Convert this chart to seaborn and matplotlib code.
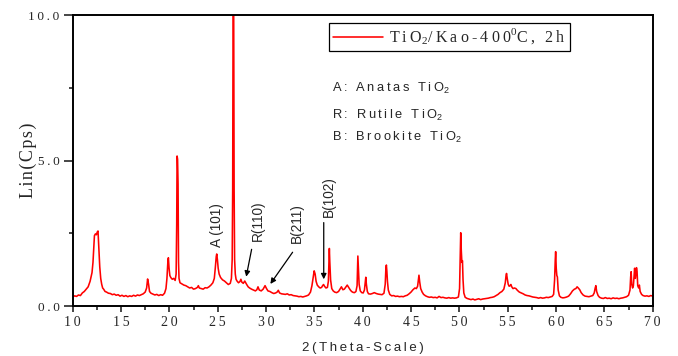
import matplotlib
matplotlib.use('Agg')
import matplotlib.pyplot as plt
import seaborn as sns
import pandas as pd
from matplotlib.ticker import FixedLocator, FixedFormatter, NullFormatter

# ---------------- data ----------------
two_theta = [
    10.0, 10.2, 10.4, 10.6, 10.8, 11.0, 11.2, 11.4, 11.6, 11.8,
    12.0, 12.1, 12.2, 12.25, 12.35, 12.45, 12.55, 12.62, 12.7, 12.8,
    12.9, 13.0, 13.1, 13.2, 13.35, 13.5, 13.7, 13.9, 14.1, 14.3,
    14.5, 14.7, 14.9, 15.1, 15.3, 15.5, 15.7, 15.9, 16.1, 16.3,
    16.5, 16.7, 16.9, 17.1, 17.3, 17.5, 17.65, 17.75, 17.85, 17.95,
    18.1, 18.3, 18.5, 18.7, 18.9, 19.1, 19.3, 19.5, 19.65, 19.75,
    19.85, 19.9, 19.97, 20.05, 20.15, 20.3, 20.45, 20.6, 20.7, 20.76,
    20.8, 20.85, 20.9, 20.95, 21.0, 21.1, 21.3, 21.5, 21.7, 21.9,
    22.1, 22.3, 22.5, 22.7, 22.9, 23.0, 23.1, 23.3, 23.5, 23.7,
    23.9, 24.1, 24.3, 24.5, 24.65, 24.75, 24.85, 24.9, 24.97, 25.05,
    25.15, 25.3, 25.5, 25.7, 25.9, 26.1, 26.3, 26.42, 26.5, 26.55,
    26.6, 26.65, 26.7, 26.75, 26.82, 26.9, 27.0, 27.15, 27.3, 27.4,
    27.5, 27.65, 27.8, 27.9, 28.0, 28.15, 28.3, 28.5, 28.7, 28.9,
    29.05, 29.17, 29.3, 29.5, 29.7, 29.9, 30.05, 30.2, 30.4, 30.6,
    30.8, 31.0, 31.15, 31.27, 31.4, 31.6, 31.8, 32.0, 32.2, 32.4,
    32.6, 32.8, 33.0, 33.2, 33.4, 33.6, 33.8, 34.0, 34.2, 34.4,
    34.6, 34.75, 34.88, 34.98, 35.08, 35.18, 35.3, 35.45, 35.6, 35.75,
    35.85, 35.95, 36.05, 36.2, 36.35, 36.45, 36.5, 36.55, 36.6, 36.68,
    36.8, 36.95, 37.1, 37.3, 37.5, 37.65, 37.8, 37.95, 38.1, 38.25,
    38.4, 38.55, 38.7, 38.85, 39.0, 39.15, 39.3, 39.42, 39.5, 39.56,
    39.63, 39.75, 39.9, 40.05, 40.18, 40.26, 40.32, 40.38, 40.48, 40.6,
    40.8, 41.0, 41.2, 41.4, 41.6, 41.8, 42.0, 42.2, 42.33, 42.4,
    42.45, 42.5, 42.56, 42.65, 42.8, 43.0, 43.2, 43.4, 43.6, 43.8,
    44.0, 44.2, 44.4, 44.6, 44.8, 45.0, 45.2, 45.4, 45.55, 45.68,
    45.76, 45.82, 45.9, 46.0, 46.15, 46.3, 46.5, 46.7, 46.9, 47.1,
    47.3, 47.5, 47.7, 47.9, 48.1, 48.3, 48.5, 48.7, 48.9, 49.1,
    49.3, 49.5, 49.7, 49.9, 50.02, 50.08, 50.14, 50.2, 50.26, 50.32,
    50.38, 50.46, 50.6, 50.8, 51.0, 51.2, 51.4, 51.6, 51.8, 52.0,
    52.2, 52.4, 52.6, 52.8, 53.0, 53.2, 53.4, 53.6, 53.8, 54.0,
    54.2, 54.4, 54.6, 54.75, 54.83, 54.88, 54.95, 55.05, 55.15, 55.25,
    55.33, 55.42, 55.55, 55.7, 55.85, 56.0, 56.2, 56.4, 56.6, 56.8,
    57.0, 57.2, 57.4, 57.6, 57.8, 58.0, 58.2, 58.4, 58.6, 58.8,
    59.0, 59.2, 59.4, 59.6, 59.75, 59.85, 59.92, 59.96, 60.02, 60.08,
    60.14, 60.22, 60.35, 60.5, 60.7, 60.9, 61.1, 61.3, 61.5, 61.7,
    61.9, 62.05, 62.18, 62.3, 62.45, 62.6, 62.8, 63.0, 63.2, 63.4,
    63.6, 63.8, 63.95, 64.05, 64.12, 64.2, 64.35, 64.5, 64.7, 64.9,
    65.1, 65.3, 65.5, 65.7, 65.9, 66.1, 66.3, 66.5, 66.7, 66.9,
    67.1, 67.3, 67.5, 67.65, 67.72, 67.77, 67.83, 67.92, 68.0, 68.07,
    68.13, 68.2, 68.26, 68.32, 68.38, 68.45, 68.55, 68.62, 68.7, 68.85,
    69.0, 69.2, 69.4, 69.6, 69.8, 70.0,
]
lin_cps = [
    0.31, 0.35, 0.33, 0.38, 0.36, 0.45, 0.50, 0.58, 0.66, 0.85,
    1.15, 1.50, 2.10, 2.42, 2.48, 2.45, 2.55, 2.58, 2.00, 1.35,
    0.95, 0.75, 0.62, 0.58, 0.50, 0.48, 0.44, 0.43, 0.39, 0.41,
    0.37, 0.39, 0.34, 0.37, 0.33, 0.36, 0.32, 0.35, 0.33, 0.37,
    0.34, 0.38, 0.36, 0.39, 0.42, 0.48, 0.62, 0.93, 0.75, 0.50,
    0.44, 0.41, 0.38, 0.40, 0.36, 0.39, 0.37, 0.44, 0.60, 0.95,
    1.55, 1.66, 1.30, 1.05, 0.98, 0.92, 0.95, 0.88, 1.10, 2.80,
    5.16, 5.05, 4.20, 1.50, 0.95, 0.80, 0.76, 0.72, 0.70, 0.66,
    0.62, 0.64, 0.58, 0.60, 0.64, 0.70, 0.62, 0.60, 0.58, 0.63,
    0.62, 0.66, 0.72, 0.80, 0.95, 1.30, 1.70, 1.79, 1.60, 1.30,
    1.10, 0.98, 0.90, 0.86, 0.80, 0.74, 0.78, 0.95, 1.60, 4.00,
    11.0, 11.0, 4.00, 1.60, 1.10, 0.92, 0.86, 0.80, 0.84, 0.92,
    0.82, 0.78, 0.86, 0.80, 0.74, 0.66, 0.62, 0.58, 0.55, 0.52,
    0.56, 0.66, 0.55, 0.52, 0.58, 0.70, 0.60, 0.52, 0.50, 0.46,
    0.43, 0.45, 0.48, 0.54, 0.45, 0.42, 0.41, 0.40, 0.42, 0.38,
    0.39, 0.36, 0.35, 0.34, 0.32, 0.33, 0.31, 0.33, 0.35, 0.38,
    0.48, 0.70, 1.00, 1.21, 1.10, 0.85, 0.72, 0.66, 0.62, 0.64,
    0.70, 0.74, 0.68, 0.62, 0.64, 0.85, 1.40, 1.98, 1.50, 0.90,
    0.60, 0.52, 0.48, 0.46, 0.50, 0.58, 0.66, 0.56, 0.58, 0.65,
    0.72, 0.64, 0.56, 0.50, 0.47, 0.46, 0.50, 0.70, 1.72, 1.30,
    0.75, 0.52, 0.46, 0.45, 0.55, 0.80, 0.99, 0.75, 0.50, 0.42,
    0.41, 0.43, 0.46, 0.43, 0.41, 0.40, 0.39, 0.44, 0.75, 1.30,
    1.41, 1.20, 0.85, 0.55, 0.40, 0.35, 0.36, 0.33, 0.34, 0.32,
    0.33, 0.32, 0.35, 0.37, 0.42, 0.48, 0.56, 0.62, 0.60, 0.68,
    0.90, 1.06, 0.82, 0.60, 0.48, 0.40, 0.35, 0.32, 0.30, 0.31,
    0.29, 0.30, 0.28, 0.33, 0.29, 0.30, 0.28, 0.27, 0.29, 0.27,
    0.28, 0.27, 0.28, 0.31, 0.60, 1.60, 2.52, 1.90, 1.50, 1.56,
    0.90, 0.45, 0.30, 0.26, 0.24, 0.22, 0.24, 0.21, 0.23, 0.25,
    0.22, 0.24, 0.25, 0.26, 0.27, 0.29, 0.30, 0.32, 0.36, 0.40,
    0.46, 0.50, 0.58, 0.80, 1.05, 1.12, 0.95, 0.75, 0.68, 0.70,
    0.74, 0.66, 0.60, 0.62, 0.60, 0.54, 0.48, 0.45, 0.42, 0.38,
    0.36, 0.35, 0.33, 0.31, 0.30, 0.29, 0.27, 0.29, 0.27, 0.28,
    0.30, 0.29, 0.31, 0.33, 0.40, 0.90, 1.60, 1.87, 1.30, 1.05,
    1.00, 0.55, 0.35, 0.30, 0.28, 0.29, 0.31, 0.34, 0.42, 0.52,
    0.58, 0.60, 0.66, 0.62, 0.56, 0.46, 0.38, 0.34, 0.33, 0.32,
    0.34, 0.36, 0.45, 0.62, 0.70, 0.50, 0.36, 0.30, 0.27, 0.26,
    0.29, 0.26, 0.27, 0.25, 0.28, 0.26, 0.27, 0.25, 0.27, 0.28,
    0.30, 0.32, 0.37, 0.55, 1.00, 1.18, 0.75, 0.62, 0.70, 1.00,
    1.30, 0.95, 1.10, 1.32, 1.20, 0.70, 0.62, 0.72, 0.50, 0.40,
    0.36, 0.34, 0.35, 0.33, 0.36, 0.34,
]

x_major_ticks = [10, 15, 20, 25, 30, 35, 40, 45, 50, 55, 60, 65, 70]
x_minor_ticks = [12.5, 17.5, 22.5, 27.5, 32.5, 37.5, 42.5, 47.5, 52.5, 57.5, 62.5, 67.5]
y_major_ticks = [0.0, 5.0, 10.0]
y_minor_ticks = [2.5, 7.5]
y_tick_labels = ["0.0", "5.0", "10.0"]

phase_notes = ["A: Anatas TiO", "R: Rutile TiO", "B: Brookite TiO"]
peak_labels = ["A (101)", "R(110)", "B(211)", "B(102)"]
peak_label_pos = [(24.97, 2.79), (29.20, 2.93), (33.16, 2.86), (36.55, 3.75)]
arrow_tips = [(27.95, 1.01), (30.45, 0.76), (35.97, 0.92)]
arrow_starts = [(28.51, 1.95), (32.75, 1.85), (35.97, 2.87)]

# ---------------- styling ----------------
THIN = '\u2009'
HAIR = '\u200a'
SERIF = ['Liberation Serif', 'DejaVu Serif']
SANS = ['Liberation Sans', 'DejaVu Sans']


def sp(s, gap=THIN):
    return gap.join(s)


sns.set_style('ticks')
plt.rcParams['font.family'] = SERIF

fig = plt.figure(figsize=(6.78, 3.56), dpi=100)
ax = fig.add_axes([0.1072, 0.1404, 0.8555, 0.8166])

df = pd.DataFrame({'two_theta': two_theta, 'lin_cps': lin_cps})
leg_text = sp('TiO') + r'$_\mathregular{2}$' + sp('/Kao-400') + r'$^\mathregular{0}$' + sp('C, 2h')
sns.lineplot(data=df, x='two_theta', y='lin_cps', ax=ax, color='#ff0000',
             linewidth=1.15, estimator=None, sort=False, label=leg_text)

ax.set_xlim(10, 70)
ax.set_ylim(0, 10)

for s in ax.spines.values():
    s.set_visible(True)
    s.set_linewidth(1.4)
    s.set_color('black')

ax.xaxis.set_major_locator(FixedLocator(x_major_ticks))
ax.xaxis.set_minor_locator(FixedLocator(x_minor_ticks))
ax.yaxis.set_major_locator(FixedLocator(y_major_ticks))
ax.yaxis.set_minor_locator(FixedLocator(y_minor_ticks))
ax.xaxis.set_major_formatter(FixedFormatter([sp(str(t)) for t in x_major_ticks]))
ax.yaxis.set_major_formatter(FixedFormatter([sp(t) for t in y_tick_labels]))
ax.xaxis.set_minor_formatter(NullFormatter())
ax.yaxis.set_minor_formatter(NullFormatter())

ax.tick_params(axis='x', which='major', direction='out', length=4.2, width=1.2,
               pad=3, labelsize=10, top=False)
ax.tick_params(axis='x', which='minor', direction='out', length=3, width=1.2, top=False)
ax.tick_params(axis='y', which='major', direction='out', length=6.5, width=1.2,
               pad=3, labelsize=9.5, right=False)
ax.tick_params(axis='y', which='minor', direction='out', length=3, width=1.2, right=False)
for lab in ax.get_xticklabels() + ax.get_yticklabels():
    lab.set_family(SERIF)

ax.set_xlabel(sp('2(Theta-Scale)'), family=SANS, fontsize=9.5)
ax.xaxis.set_label_coords(0.5, -0.125)
ax.set_ylabel(sp('Lin(Cps)', HAIR), family=SERIF, fontsize=13)
ax.yaxis.set_label_coords(-0.062, 0.5)

leg = ax.legend(loc='upper left', bbox_to_anchor=(0.442, 0.975), frameon=True,
                fancybox=False, edgecolor='black', framealpha=1, borderaxespad=0,
                borderpad=0.25, handlelength=3.1, handletextpad=0.4,
                prop={'family': SERIF, 'size': 11.5})
leg.get_frame().set_linewidth(0.9)

note_y = [0.737, 0.645, 0.567]
for txt, yy in zip(phase_notes, note_y):
    ax.text(0.447, yy, sp(txt) + r'$_\mathregular{2}$', transform=ax.transAxes,
            family=SANS, fontsize=9.3, ha='left', va='baseline')

for txt, (px, py) in zip(peak_labels, peak_label_pos):
    ax.text(px, py, txt, rotation=90, ha='center', va='center',
            family=SANS, fontsize=9.8)

for tip, start in zip(arrow_tips, arrow_starts):
    ax.annotate('', xy=tip, xytext=start,
                arrowprops=dict(arrowstyle='-|>', color='black', lw=0.9,
                                mutation_scale=8, shrinkA=0, shrinkB=0))

fig.savefig('out.png', dpi=100)
